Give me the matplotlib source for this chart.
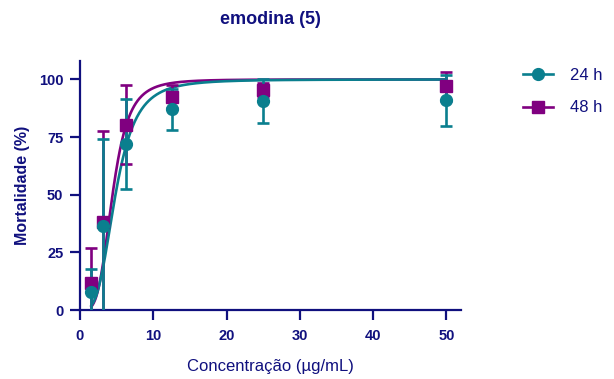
import numpy as np
import matplotlib
matplotlib.use("Agg")
import matplotlib.pyplot as plt
from matplotlib.lines import Line2D

plt.rcParams['font.family'] = ['Liberation Sans', 'DejaVu Sans']

# Data
conc = [1.5625, 3.125, 6.25, 12.5, 25, 50]
mort_24h = [8, 36.5, 72, 87, 90.5, 91]
err_24h = [10, 37.5, 19.5, 9, 9.5, 11]
mort_48h = [11.7, 38, 80.4, 92.5, 95.6, 97]
err_48h = [15, 39.5, 17, 5, 3, 6.3]
# Fitted dose-response parameters (EC50, Hill slope)
fit_24h = (4.84, 3.45)
fit_48h = (4.44, 4.0)

title = "emodina (5)"
xlabel = "Concentração (µg/mL)"
ylabel = "Mortalidade (%)"
xticks = [0, 10, 20, 30, 40, 50]
yticks = [0, 25, 50, 75, 100]
labels = ["24 h", "48 h"]

navy = "#10107E"
teal = "#0A7F8E"
purple = "#800080"

fig = plt.figure(figsize=(6.14, 3.79), dpi=100)
W, H = 614, 379
ax = fig.add_axes([80 / W, 1 - 310 / H, (461 - 80) / W, (310 - 61) / H])

xs = np.linspace(conc[0], conc[-1], 600)

def hill(x, ec50, h):
    return 100.0 / (1.0 + (ec50 / x) ** h)

for m, e, fit, col, mk, ms in [
    (mort_48h, err_48h, fit_48h, purple, 's', 8),
    (mort_24h, err_24h, fit_24h, teal, 'o', 8.5),
]:
    ax.plot(xs, hill(xs, *fit), color=col, lw=1.9, zorder=2)
    ax.errorbar(conc, m, yerr=e, fmt=mk, color=col, ms=ms, mec=col, mfc=col,
                elinewidth=1.9, capsize=4, capthick=1.9, zorder=3)

ax.set_xlim(0, 52)
ax.set_ylim(0, 108)
for s in ['top', 'right']:
    ax.spines[s].set_visible(False)
for s in ['left', 'bottom']:
    ax.spines[s].set_color(navy)
    ax.spines[s].set_linewidth(1.6)
ax.set_xticks(xticks)
ax.set_yticks(yticks)
ax.tick_params(axis='both', colors=navy, width=1.6, length=7, direction='out',
               labelsize=10.5)
ax.tick_params(axis='x', pad=7)
ax.tick_params(axis='y', pad=5)
for lab in ax.get_xticklabels() + ax.get_yticklabels():
    lab.set_fontweight('bold')
    lab.set_color(navy)

ax.set_xlabel(xlabel, color=navy, fontsize=12, labelpad=11)
ax.set_ylabel(ylabel, color=navy, fontsize=11.5, fontweight='bold', labelpad=6)
fig.text(270 / W, 1 - 20 / H, title, color=navy, fontsize=13, fontweight='bold',
         ha='center', va='center')

handles = [
    Line2D([], [], color=teal, marker='o', ms=8.5, lw=1.9),
    Line2D([], [], color=purple, marker='s', ms=8, lw=1.9),
]
fig.legend(handles, labels, loc='upper left', bbox_to_anchor=(508 / W, 1 - 53 / H),
           frameon=False, handlelength=1.8, fontsize=12, labelcolor=navy,
           labelspacing=1.05, handletextpad=1.0)

fig.savefig("out.png", dpi=100)
